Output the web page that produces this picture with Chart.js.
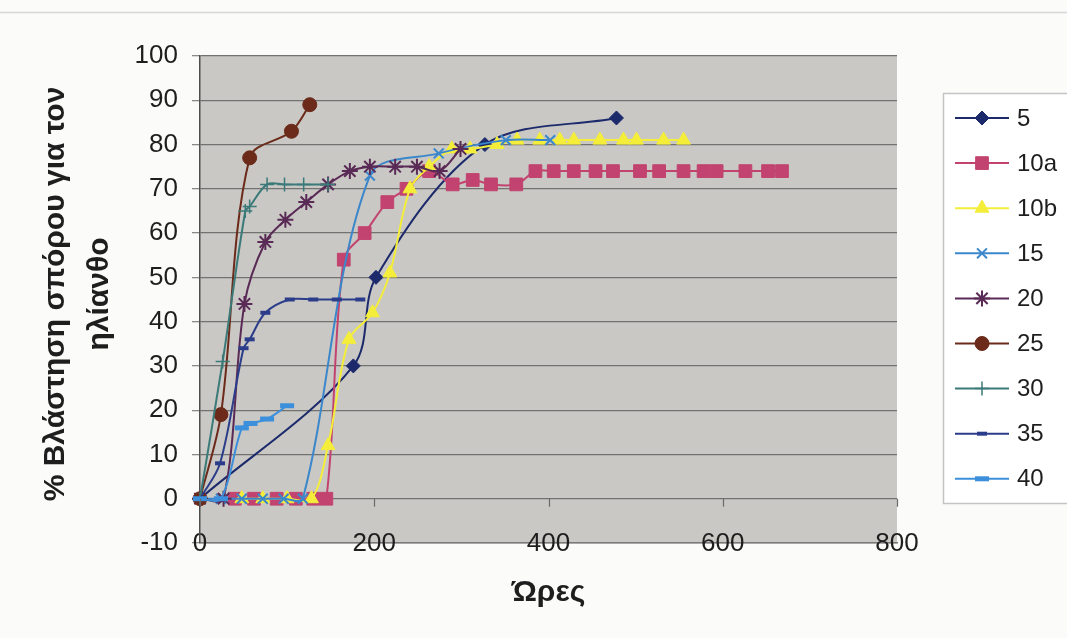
<!DOCTYPE html>
<html>
<head>
<meta charset="utf-8">
<script src="https://cdn.jsdelivr.net/npm/chart.js@4.4.1/dist/chart.umd.min.js"></script>
<style>
  html, body { margin: 0; padding: 0; background: #fbfbfa; }
  #wrap { width: 1067px; height: 638px; position: relative; }
</style>
</head>
<body>
<div id="wrap"><canvas id="myChart" width="1067" height="638"></canvas></div>
<script>
// ώρες και % βλάστηση για κάθε θερμοκρασία
const hours5 = [0, 176, 202, 327, 478];
const pct5 = [0, 30, 50, 80, 86];

const hours10a = [40, 62, 88, 110, 130, 145, 165, 189, 215, 237, 263, 290, 313, 334, 363, 385, 406, 429, 454, 474, 505, 527, 555, 578, 593, 626, 652, 668];
const pct10a = [0, 0, 0, 0, 0, 0, 54, 60, 67, 70, 74, 71, 72, 71, 71, 74, 74, 74, 74, 74, 74, 74, 74, 74, 74, 74, 74, 74];

const hours10b = [48, 72, 100, 128, 147, 171, 198, 218, 241, 263, 289, 310, 341, 364, 390, 413, 429, 459, 486, 501, 532, 555];
const pct10b = [0, 0, 0, 0, 12, 36, 42, 51, 70, 75, 79, 79, 80, 81, 81, 81, 81, 81, 81, 81, 81, 81];

const hours15 = [0, 24, 48, 72, 96, 118, 195, 274, 351, 402];
const pct15 = [0, 0, 0, 0, 0, 0, 73, 78, 81, 81];

const hours20 = [0, 27, 51, 75, 98, 122, 147, 172, 195, 224, 249, 275, 299];
const pct20 = [0, 0, 44, 58, 63, 67, 71, 74, 75, 75, 75, 74, 79];

const hours25 = [0, 24, 57, 105, 126];
const pct25 = [0, 19, 77, 83, 89];

const hours30 = [0, 26, 52, 57, 77, 97, 119, 147];
const pct30 = [0, 31, 65, 66, 71, 71, 71, 71];

const hours35 = [0, 23, 50, 57, 75, 103, 130, 157, 184];
const pct35 = [0, 8, 34, 36, 42, 45, 45, 45, 45];

const hours40 = [0, 24, 48, 58, 77, 100];
const pct40 = [0, 0, 16, 17, 18, 21];

const seriesNames = ['5', '10a', '10b', '15', '20', '25', '30', '35', '40'];
const xTicks = [0, 200, 400, 600, 800];
const yTicks = [-10, 0, 10, 20, 30, 40, 50, 60, 70, 80, 90, 100];

const FONT = '"Liberation Sans", Arial, sans-serif';

const styles = [
  { color: '#1c2a6c', point: 'rectRot', r: 7, bw: 1 },
  { color: '#c2436f', point: 'rect', r: 9, bw: 1 },
  { color: '#f4ee3a', point: 'triangle', r: 8, bw: 1 },
  { color: '#3b87cb', point: 'crossRot', r: 7, bw: 2 },
  { color: '#5a2a56', point: 'star', r: 8, bw: 2 },
  { color: '#6b2a1a', point: 'circle', r: 7, bw: 1 },
  { color: '#3b7a78', point: 'cross', r: 7, bw: 1.5 },
  { color: '#2b3d8a', point: 'line', r: 5, bw: 4 },
  { color: '#3c8fdb', point: 'line', r: 7, bw: 5 }
];

const allHours = [hours5, hours10a, hours10b, hours15, hours20, hours25, hours30, hours35, hours40];
const allPct = [pct5, pct10a, pct10b, pct15, pct20, pct25, pct30, pct35, pct40];

const datasets = seriesNames.map((name, i) => ({
  label: name,
  data: allHours[i].map((h, k) => ({ x: h, y: allPct[i][k] })),
  borderColor: styles[i].color,
  backgroundColor: styles[i].color,
  borderWidth: 2,
  pointStyle: styles[i].point,
  pointRadius: styles[i].r,
  pointBorderWidth: styles[i].bw,
  pointBackgroundColor: styles[i].color,
  pointBorderColor: styles[i].color,
  tension: 0.33,
  clip: false,
  order: 10 - i
}));

// φόντο περιοχής, γραμμή του μηδενός, τίτλοι αξόνων, υπόμνημα
const decor = {
  id: 'decor',
  beforeDraw(chart) {
    const { ctx, chartArea: a } = chart;
    ctx.save();
    ctx.strokeStyle = '#d6d6d6';
    ctx.lineWidth = 1.5;
    ctx.beginPath();
    ctx.moveTo(0, 12.5);
    ctx.lineTo(1067, 12.5);
    ctx.stroke();
    ctx.fillStyle = '#c9c8c4';
    ctx.fillRect(a.left, a.top, a.right - a.left, a.bottom - a.top);
    ctx.restore();
  },
  afterDatasetsDraw(chart) {
    const { ctx, scales } = chart;
    const y0 = scales.y.getPixelForValue(0);
    ctx.save();
    ctx.strokeStyle = '#6a6a6a';
    ctx.lineWidth = 1.2;
    xTicks.forEach(v => {
      const x = Math.round(scales.x.getPixelForValue(v)) + 0.5;
      ctx.beginPath();
      ctx.moveTo(x, y0);
      ctx.lineTo(x, y0 + 8);
      ctx.stroke();
    });
    ctx.restore();
  },
  afterDraw(chart) {
    const { ctx, chartArea: a } = chart;
    ctx.save();
    ctx.fillStyle = '#1e1e1e';
    ctx.textAlign = 'center';
    ctx.textBaseline = 'middle';

    ctx.font = 'bold 30px ' + FONT;
    ctx.fillText('Ώρες', (a.left + a.right) / 2, 593);

    ctx.save();
    ctx.translate(56, 294);
    ctx.rotate(-Math.PI / 2);
    ctx.fillText('% Βλάστηση σπόρου για τον', 0, 0);
    ctx.fillText('ηλίανθο', 0, 44);
    ctx.restore();

    // υπόμνημα
    ctx.fillStyle = '#ffffff';
    ctx.fillRect(943, 93, 140, 410);
    ctx.strokeStyle = '#c4c4c4';
    ctx.lineWidth = 1.5;
    ctx.strokeRect(943.5, 93.5, 140, 410);
    ctx.font = '24px ' + FONT;
    ctx.textAlign = 'left';
    chart.data.datasets.forEach((ds, i) => {
      const y = 118 + i * 45.1;
      ctx.strokeStyle = ds.borderColor;
      ctx.fillStyle = ds.borderColor;
      ctx.lineWidth = 2;
      ctx.beginPath();
      ctx.moveTo(955, y);
      ctx.lineTo(1009, y);
      ctx.stroke();
      ctx.lineWidth = ds.pointBorderWidth;
      Chart.helpers.drawPoint(ctx, {
        pointStyle: ds.pointStyle,
        radius: ds.pointRadius,
        borderWidth: ds.pointBorderWidth,
        rotation: 0
      }, 982, y);
      ctx.fillStyle = '#1e1e1e';
      ctx.fillText(ds.label, 1017, y + 1);
    });
    ctx.restore();
  }
};

new Chart(document.getElementById('myChart'), {
  type: 'line',
  data: { datasets: datasets },
  options: {
    responsive: false,
    animation: false,
    devicePixelRatio: 1,
    layout: { padding: { top: 56, right: 170, left: 0, bottom: 0 } },
    plugins: { legend: { display: false }, tooltip: { enabled: false } },
    scales: {
      x: {
        type: 'linear',
        min: 0,
        max: 800,
        afterBuildTicks: scale => { scale.ticks = xTicks.map(v => ({ value: v })); },
        afterFit: scale => { scale.height = 95; },
        grid: { drawOnChartArea: false, drawTicks: false },
        border: { color: '#7a7a7a', width: 1.5 },
        ticks: {
          mirror: true,
          padding: -16,
          color: '#1e1e1e',
          font: { family: FONT, size: 26 }
        }
      },
      y: {
        min: -10,
        max: 100,
        afterBuildTicks: scale => { scale.ticks = yTicks.map(v => ({ value: v })); },
        afterFit: scale => { scale.width = 200; },
        grid: { color: '#727272', lineWidth: 1.3, tickLength: 8, tickColor: '#8a8a8a' },
        border: { color: '#4e4e4e', width: 1.5 },
        ticks: {
          padding: 14,
          color: '#1e1e1e',
          font: { family: FONT, size: 26 }
        }
      }
    }
  },
  plugins: [decor]
});
</script>
</body>
</html>
